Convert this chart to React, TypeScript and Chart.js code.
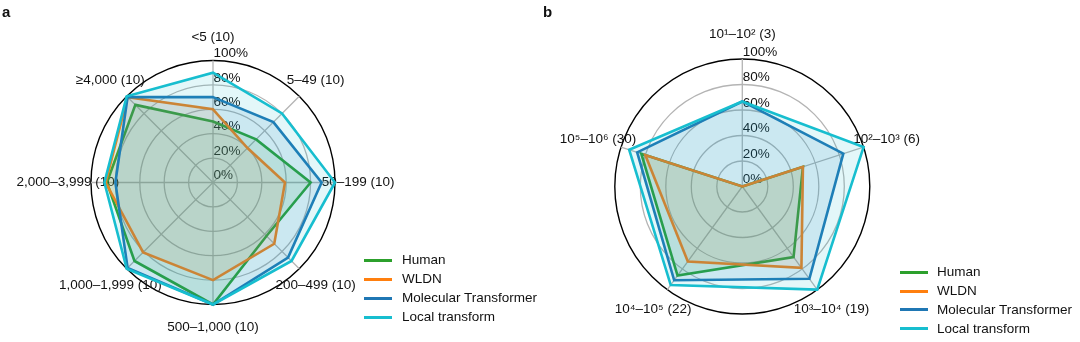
import React, { useEffect, useRef } from "react";
import { Chart, registerables } from "chart.js";

Chart.register(...registerables);

// ---------- data ----------
const seriesNames = ["Human", "WLDN", "Molecular Transformer", "Local transform"];
const seriesColors = ["#2ca02c", "#ff7f0e", "#1f77b4", "#17becf"];

const categoriesA = [
  "<5 (10)",
  "5–49 (10)",
  "50–199 (10)",
  "200–499 (10)",
  "500–1,000 (10)",
  "1,000–1,999 (10)",
  "2,000–3,999 (10)",
  "≥4,000 (10)",
];
const humanA = [50, 50, 80, 62, 100, 91, 87, 90];
const wldnA = [60, 40, 59, 71, 80, 81, 88, 99];
const molTransA = [70, 70, 89, 87, 100, 99, 80, 99];
const localA = [90, 80, 100, 91, 100, 100, 89, 100];

const categoriesB = [
  "10¹–10² (3)",
  "10²–10³ (6)",
  "10³–10⁴ (19)",
  "10⁴–10⁵ (22)",
  "10⁵–10⁶ (30)",
];
const humanB = [0, 50, 68.4, 86.4, 83.3];
const wldnB = [0, 50, 78.9, 72.7, 80];
const molTransB = [66.7, 83.3, 89.5, 90.9, 86.7];
const localB = [66.7, 100, 100, 95.5, 93.3];

const tickValues = [0, 20, 40, 60, 80, 100];
const tickLabels = ["0%", "20%", "40%", "60%", "80%", "100%"];

// ---------- helpers ----------
const FONT_FAMILY = '"Liberation Sans", Arial, "DejaVu Sans", sans-serif';
const TEXT_FONT = `13.5px ${FONT_FAMILY}`;
const TEXT_COLOR = "#111";

function rgba(hex: string, a: number) {
  const n = parseInt(hex.slice(1), 16);
  return `rgba(${(n >> 16) & 255},${(n >> 8) & 255},${n & 255},${a})`;
}

const textPlugin = {
  id: "radarText",
  beforeDatasetsDraw(chart: any) {
    const s = chart.scales.r;
    const ctx = chart.ctx;
    ctx.save();
    ctx.font = TEXT_FONT;
    ctx.fillStyle = TEXT_COLOR;
    ctx.textAlign = "left";
    ctx.textBaseline = "middle";
    tickValues.forEach((v, i) => {
      const d = s.getDistanceFromCenterForValue(v);
      ctx.fillText(tickLabels[i], s.xCenter + 0.5, s.yCenter - d - 7);
    });
    ctx.textAlign = "center";
    (chart.data.labels as string[]).forEach((lab, i) => {
      const p = s.getPointPosition(i, s.drawingArea * 1.19);
      ctx.fillText(lab, p.x, p.y);
    });
    ctx.restore();
  },
};

type PanelProps = {
  left: number;
  width: number;
  cx: number;
  cy: number;
  radius: number;
  labels: string[];
  series: number[][];
};

function RadarPanel({ left, width, cx, cy, radius, labels, series }: PanelProps) {
  const ref = useRef<HTMLCanvasElement | null>(null);
  useEffect(() => {
    if (!ref.current) return;
    const chart = new Chart(ref.current, {
      type: "radar",
      data: {
        labels,
        datasets: series.map((d, i) => ({
          label: seriesNames[i],
          data: d,
          borderColor: seriesColors[i],
          backgroundColor: rgba(seriesColors[i], 0.12),
          borderWidth: 2.6,
          borderJoinStyle: "miter" as const,
          pointRadius: 0,
          pointHoverRadius: 0,
          tension: 0,
          fill: true,
          order: 4 - i,
        })),
      },
      options: {
        responsive: false,
        animation: false,
        events: [],
        layout: { padding: 0 },
        plugins: {
          legend: { display: false },
          tooltip: { enabled: false },
          title: { display: false },
        },
        scales: {
          r: {
            min: 0,
            max: 100,
            ticks: { stepSize: 20, display: false },
            pointLabels: { display: false },
            grid: {
              circular: true,
              color: (c: any) => (c.tick && c.tick.value === 100 ? "#000000" : "#b4b4b4"),
              lineWidth: (c: any) => (c.tick && c.tick.value === 100 ? 1.4 : 1.3),
            },
            angleLines: { color: "#b4b4b4", lineWidth: 1.3 },
            afterFit: (scale: any) => {
              scale.xCenter = cx;
              scale.yCenter = cy;
              scale.drawingArea = radius;
            },
          } as any,
        },
      },
      plugins: [textPlugin],
    });
    return () => chart.destroy();
  }, []);
  return (
    <canvas
      ref={ref}
      width={width}
      height={342}
      style={{ position: "absolute", left, top: 0, width, height: 342 }}
    />
  );
}

function Legend({ lineX, textX, rows }: { lineX: number; textX: number; rows: number[] }) {
  return (
    <>
      {seriesNames.map((name, i) => (
        <React.Fragment key={name}>
          <div
            style={{
              position: "absolute",
              left: lineX,
              top: rows[i] - 1.5,
              width: 28,
              height: 3,
              background: seriesColors[i],
            }}
          />
          <div
            style={{
              position: "absolute",
              left: textX,
              top: rows[i] - 9,
              height: 18,
              lineHeight: "18px",
              fontSize: "13.5px",
              fontFamily: FONT_FAMILY,
              color: TEXT_COLOR,
              whiteSpace: "nowrap",
            }}
          >
            {name}
          </div>
        </React.Fragment>
      ))}
    </>
  );
}

export default function App() {
  return (
    <div
      style={{
        position: "absolute",
        left: 0,
        top: 0,
        width: 1080,
        height: 342,
        background: "#fff",
        overflow: "hidden",
      }}
    >
      <RadarPanel
        left={0}
        width={540}
        cx={213}
        cy={182.5}
        radius={122}
        labels={categoriesA}
        series={[humanA, wldnA, molTransA, localA]}
      />
      <RadarPanel
        left={540}
        width={540}
        cx={202.3}
        cy={186.5}
        radius={127.5}
        labels={categoriesB}
        series={[humanB, wldnB, molTransB, localB]}
      />
      <div
        style={{
          position: "absolute",
          left: 2,
          top: 3,
          fontFamily: FONT_FAMILY,
          fontWeight: "bold",
          fontSize: "15px",
          color: "#111",
        }}
      >
        a
      </div>
      <div
        style={{
          position: "absolute",
          left: 543,
          top: 3,
          fontFamily: FONT_FAMILY,
          fontWeight: "bold",
          fontSize: "15px",
          color: "#111",
        }}
      >
        b
      </div>
      <Legend lineX={364} textX={402} rows={[260, 279, 298, 317]} />
      <Legend lineX={900} textX={937} rows={[272, 291, 309.5, 328.5]} />
    </div>
  );
}
